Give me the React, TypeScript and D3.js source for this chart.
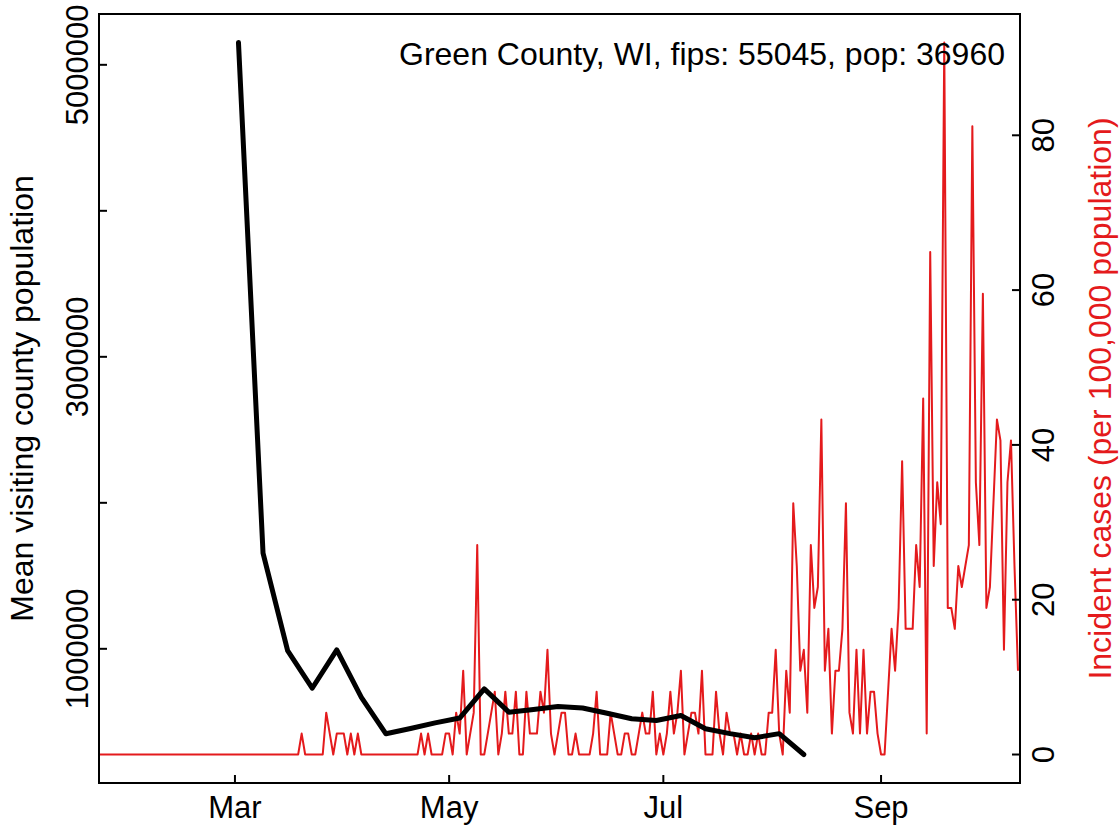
import React from "react";
import * as d3 from "d3";

// ---------- data ----------
const countyTitle = "Green County, WI, fips: 55045, pop: 36960";
const population = 36960;

// weekly mean visiting county population (black line)
const visitStart = new Date(2020, 2, 2);
const visitValues = [
  5153000, 1655000, 988000, 730000, 993000, 668000, 418000, 454000, 493000,
  526000, 726000, 566000, 584000, 605000, 595000, 559000, 521000, 509000,
  543000, 453000, 419000, 391000, 419000, 276000,
];

// daily new cases, starting 2020-01-22 (red line)
const casesStart = new Date(2020, 0, 22);
const dailyCases = [
  0, 0, 0, 0, 0, 0, 0, 0, 0, 0, 0, 0, 0, 0, 0, 0, 0, 0, 0, 0,
  0, 0, 0, 0, 0, 0, 0, 0, 0, 0, 0, 0, 0, 0, 0, 0, 0, 0, 0, 0,
  0, 0, 0, 0, 0, 0, 0, 0, 0, 0, 0, 0, 0, 0, 0, 0, 0, 0,
  1, 0, 0, 0, 0, 0, 0, 2, 1, 0, 1, 1, 1, 0, 1, 0, 1,
  0, 0, 0, 0, 0, 0, 0, 0, 0, 0, 0, 0, 0, 0, 0, 0, 0,
  1, 0, 1, 0, 0, 0, 0, 1, 1, 0, 2, 1, 4, 0, 1, 2, 10, 0, 0, 1, 2, 3,
  0, 1, 3, 1, 1, 3, 0, 0, 3, 1, 1, 1, 3, 2, 5, 1, 0, 1, 2, 2, 0, 0,
  1, 0, 0, 0, 0, 1, 3, 0, 0, 0, 2, 1, 0, 0, 1, 1, 0, 0, 1, 2, 1, 1,
  3, 0, 1, 0, 1, 3, 1, 2, 4, 0, 1, 2, 2, 1, 4, 0, 0, 0, 3, 1, 0, 2,
  1, 1, 0, 1, 0, 0, 1, 0, 1, 0, 0, 2, 2, 5, 1, 0, 4, 2, 12, 9, 4, 5,
  2, 10, 7, 8, 16, 4, 6, 1, 4, 4, 6, 12, 2, 1, 5, 1, 5, 1, 3, 3, 1,
  0, 0, 3, 6, 4, 7, 14, 6, 6, 6, 10, 8, 17, 1, 24, 9, 13, 11, 34, 7,
  7, 6, 9, 8, 9, 10, 30, 13, 10, 22, 7, 8, 12, 16, 15, 5, 13, 15, 9, 4,
];

const monthTicks = [
  new Date(2020, 2, 1),
  new Date(2020, 4, 1),
  new Date(2020, 6, 1),
  new Date(2020, 8, 1),
];
const monthLabels = ["Mar", "May", "Jul", "Sep"];
const leftTicks = [1000000, 2000000, 3000000, 4000000, 5000000];
const leftLabels = ["1000000", "", "3000000", "", "5000000"];
const rightTicks = [0, 20, 40, 60, 80];
const rightLabels = ["0", "20", "40", "60", "80"];

const leftTitle = "Mean visiting county population";
const rightTitle = "Incident cases (per 100,000 population)";

// ---------- layout ----------
const W = 1119;
const H = 831;
const plot = { left: 99, right: 1020, top: 14, bottom: 783 };
const RED = "#E41A1C";
const FONT = "'Liberation Sans', Arial, Helvetica, sans-serif";
const tickLen = 8;

function padded(ext: [number, number]): [number, number] {
  const span = ext[1] - ext[0];
  return [ext[0] - span * 0.04, ext[1] + span * 0.04];
}

export default function App() {
  const DAY = 86400000;
  const visit = visitValues.map((v, i) => ({
    date: new Date(visitStart.getTime() + i * 7 * DAY),
    v,
  }));
  const cases = dailyCases.map((c, i) => ({
    date: new Date(casesStart.getTime() + i * DAY),
    v: (c * 100000) / population,
  }));

  const x = d3
    .scaleTime()
    .domain([cases[0].date, cases[cases.length - 1].date])
    .range([98, 1018]);

  const yL = d3
    .scaleLinear()
    .domain(padded(d3.extent(visitValues) as [number, number]))
    .range([plot.bottom, plot.top]);
  const yR = d3
    .scaleLinear()
    .domain(padded(d3.extent(cases, (d) => d.v) as [number, number]))
    .range([plot.bottom, plot.top]);

  const blackLine = d3
    .line<{ date: Date; v: number }>()
    .x((d) => x(d.date))
    .y((d) => yL(d.v));
  const redLine = d3
    .line<{ date: Date; v: number }>()
    .x((d) => x(d.date))
    .y((d) => yR(d.v));

  const cy = (plot.top + plot.bottom) / 2;

  return (
    <svg
      width={W}
      height={H}
      style={{ position: "absolute", left: 0, top: 0, background: "#fff" }}
      fontFamily={FONT}
    >
      <defs>
        <clipPath id="plotclip">
          <rect
            x={plot.left}
            y={plot.top}
            width={plot.right - plot.left}
            height={plot.bottom - plot.top}
          />
        </clipPath>
      </defs>

      <g clipPath="url(#plotclip)">
        <path
          d={redLine(cases) || ""}
          fill="none"
          stroke={RED}
          strokeWidth={2}
          strokeLinejoin="round"
        />
        <path
          d={blackLine(visit) || ""}
          fill="none"
          stroke="#000"
          strokeWidth={5}
          strokeLinejoin="round"
          strokeLinecap="round"
        />
      </g>

      {/* frame */}
      <rect
        x={plot.left}
        y={plot.top}
        width={plot.right - plot.left}
        height={plot.bottom - plot.top}
        fill="none"
        stroke="#000"
        strokeWidth={2}
      />

      {/* bottom axis */}
      {monthTicks.map((t, i) => (
        <g key={"b" + i}>
          <line
            x1={x(t)}
            x2={x(t)}
            y1={plot.bottom}
            y2={plot.bottom - tickLen}
            stroke="#000"
            strokeWidth={2}
          />
          <text x={x(t)} y={818} fontSize={31} textAnchor="middle" fill="#000">
            {monthLabels[i]}
          </text>
        </g>
      ))}

      {/* left axis */}
      {leftTicks.map((t, i) => (
        <g key={"l" + i}>
          <line
            x1={plot.left}
            x2={plot.left + tickLen}
            y1={yL(t)}
            y2={yL(t)}
            stroke="#000"
            strokeWidth={2}
          />
          {leftLabels[i] && (
            <text
              transform={`translate(88,${yL(t)}) rotate(-90)`}
              fontSize={31}
              textAnchor="middle"
              fill="#000"
            >
              {leftLabels[i]}
            </text>
          )}
        </g>
      ))}

      {/* right axis */}
      {rightTicks.map((t, i) => (
        <g key={"r" + i}>
          <line
            x1={plot.right}
            x2={plot.right - tickLen}
            y1={yR(t)}
            y2={yR(t)}
            stroke="#000"
            strokeWidth={2}
          />
          <text
            transform={`translate(1054,${yR(t)}) rotate(-90)`}
            fontSize={31}
            textAnchor="middle"
            fill="#000"
          >
            {rightLabels[i]}
          </text>
        </g>
      ))}

      {/* axis titles */}
      <text
        transform={`translate(33,${cy}) rotate(-90)`}
        fontSize={32}
        textAnchor="middle"
        fill="#000"
      >
        {leftTitle}
      </text>
      <text
        transform={`translate(1111,${cy}) rotate(-90)`}
        fontSize={32}
        textAnchor="middle"
        fill={RED}
      >
        {rightTitle}
      </text>

      {/* county label */}
      <text x={1005} y={65} fontSize={32} textAnchor="end" fill="#000">
        {countyTitle}
      </text>
    </svg>
  );
}
